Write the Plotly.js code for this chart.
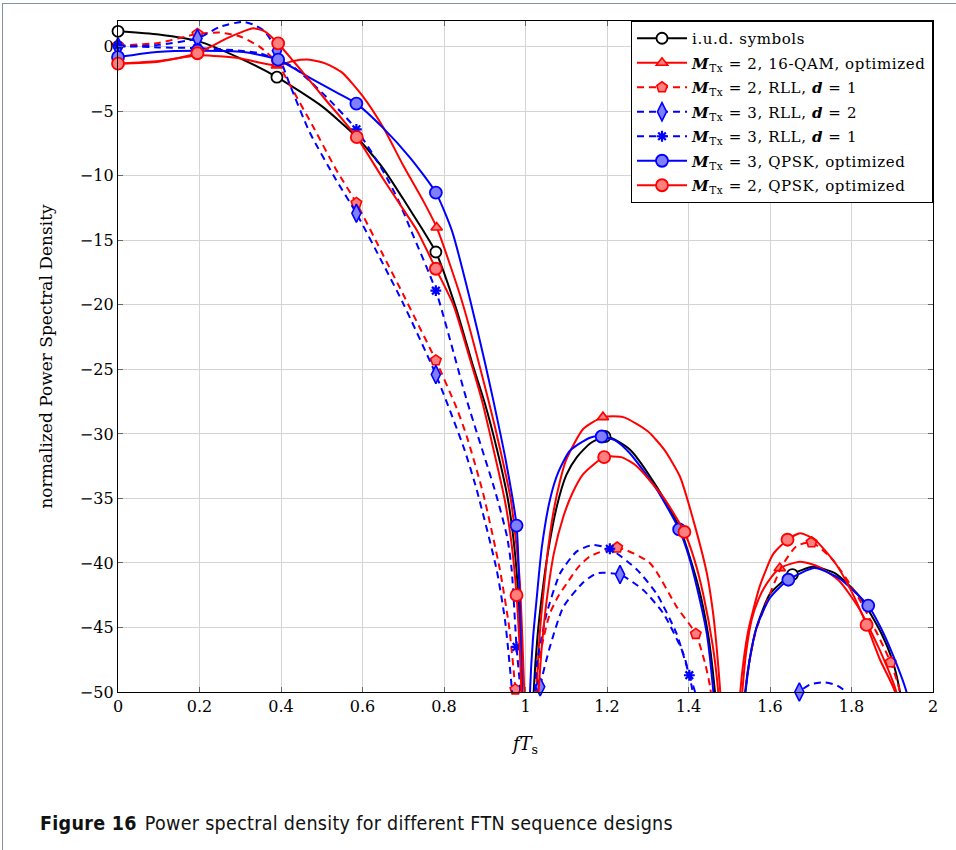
<!DOCTYPE html>
<html>
<head>
<meta charset="utf-8">
<script src="https://cdn.plot.ly/plotly-3.0.1.min.js"></script>
<style>
  html, body { margin: 0; padding: 0; background: #ffffff; }
  #wrap { position: relative; width: 956px; height: 850px; overflow: hidden; }
  #chart { position: absolute; left: 0; top: 0; width: 956px; height: 850px; }
  #frame { position: absolute; left: 2px; top: 3px; width: 980px; height: 900px;
           border-top: 1.5px solid #7e93ad; border-left: 1.5px solid #7e93ad; pointer-events: none; }
  #caption { position: absolute; left: 40px; top: 812px; font-family: "Liberation Sans Narrow", "DejaVu Sans Condensed", "Arial Narrow", sans-serif;
             font-size: 19.5px; letter-spacing: 0.3px; color: #111; white-space: nowrap; }
  #caption b { font-weight: bold; margin-right: 8px; }
  .legendtext { letter-spacing: 0.6px; }
</style>
</head>
<body>
<div id="wrap">
  <div id="chart"></div>
  <div id="frame"></div>
  <div id="caption"><b>Figure 16</b>Power spectral density for different FTN sequence designs</div>
</div>
<script>
// ---------- tick labels ----------
const xTickVals = [0, 0.2, 0.4, 0.6, 0.8, 1, 1.2, 1.4, 1.6, 1.8, 2];
const xTickText = ['0', '0.2', '0.4', '0.6', '0.8', '1', '1.2', '1.4', '1.6', '1.8', '2'];
const yTickVals = [0, -5, -10, -15, -20, -25, -30, -35, -40, -45, -50];
const yTickText = ['0', '\u22125', '\u221210', '\u221215', '\u221220', '\u221225', '\u221230', '\u221235', '\u221240', '\u221245', '\u221250'];

// ---------- series names ----------
const seriesNames = [
  'i.u.d. symbols',
  '<b><i>M</i></b><sub>Tx</sub> = 2, 16-QAM, optimized',
  '<b><i>M</i></b><sub>Tx</sub> = 2, RLL, <b><i>d</i></b> = 1',
  '<b><i>M</i></b><sub>Tx</sub> = 3, RLL, <b><i>d</i></b> = 2',
  '<b><i>M</i></b><sub>Tx</sub> = 3, RLL, <b><i>d</i></b> = 1',
  '<b><i>M</i></b><sub>Tx</sub> = 3, QPSK, optimized',
  '<b><i>M</i></b><sub>Tx</sub> = 2, QPSK, optimized'
];

// ---------- i.u.d. symbols ----------
const iudX = [0,0.1,0.2,0.3,0.39,0.5,0.586,0.65,0.7,0.75,0.78,0.83,0.87,0.9,0.93,0.957,0.975,0.988,1.005,1.02,1.03,1.04,1.055,1.077,1.1,1.126,1.16,1.2,1.256,1.322,1.38,1.424,1.448,1.465,1.478,1.5,1.525,1.539,1.55,1.567,1.6,1.653,1.706,1.76,1.82,1.874,1.9,1.919,1.94];
const iudY = [1.2,0.95,0.4,-0.9,-2.35,-4.6,-7.0,-9.4,-11.8,-14.3,-15.9,-20.3,-24.6,-27.6,-31.2,-35.1,-39.5,-46,-65,-50,-45.5,-42.6,-39.2,-35.6,-33.2,-31.8,-30.7,-30.2,-31.2,-34.1,-37.4,-41.8,-45.5,-50,-55,-65,-56,-50,-47.5,-45.0,-42.4,-40.9,-40.3,-40.8,-42.6,-45.5,-47.5,-50,-55];
const iudMarkX = [0,0.39,0.78,1.195,1.655];
const iudMarkY = [1.2,-2.35,-15.9,-30.2,-40.9];

// ---------- M=2, 16-QAM, optimized ----------
const qamX = [0,0.1,0.2,0.3,0.39,0.43,0.47,0.51,0.55,0.6,0.65,0.7,0.75,0.782,0.843,0.909,0.94,0.964,0.985,0.997,1.01,1.022,1.027,1.035,1.045,1.057,1.07,1.085,1.1,1.142,1.19,1.24,1.3,1.34,1.379,1.412,1.445,1.46,1.469,1.478,1.49,1.505,1.52,1.532,1.542,1.555,1.572,1.592,1.624,1.674,1.72,1.77,1.82,1.87,1.91,1.93];
const qamY = [-1.3,-1.1,-0.65,-0.9,-1.45,-1.1,-1.0,-1.3,-2.0,-3.8,-6.2,-9.2,-12.0,-14.0,-19.6,-27.4,-31.5,-35.1,-41,-50,-65,-55,-50,-45.5,-42,-38.5,-35.8,-33.6,-32,-29.6,-28.7,-28.7,-29.8,-31.2,-33.3,-36.7,-40.8,-43.8,-46.5,-50,-56,-65,-56,-50,-46.8,-44.4,-42.8,-41.6,-40.4,-39.9,-40.3,-41.4,-43.6,-46.8,-50,-54];
const qamMarkX = [0,0.39,0.782,1.19,1.624];
const qamMarkY = [-1.3,-1.45,-14.0,-28.7,-40.4];

// ---------- M=2, RLL, d=1 ----------
const rllAX = [0,0.1,0.195,0.25,0.3,0.348,0.39,0.414,0.479,0.535,0.585,0.65,0.7,0.741,0.78,0.831,0.856,0.896,0.937,0.96,0.975,0.985,1.0,1.02,1.031,1.045,1.06,1.08,1.101,1.13,1.158,1.225,1.305,1.371,1.418,1.44,1.453,1.47,1.5,1.525,1.539,1.55,1.565,1.592,1.63,1.665,1.702,1.755,1.821,1.896,1.919,1.935];
const rllAY = [0.1,0.3,1.0,1.1,0.8,0.0,-1.2,-2.5,-6.2,-9.5,-12.1,-16.1,-19.2,-21.8,-24.3,-28.0,-30.2,-34.6,-40.5,-45,-49.8,-55,-65,-53,-48,-45.7,-43.9,-42.6,-41.6,-40.3,-39.5,-38.8,-40.0,-43.4,-45.5,-47.7,-49.6,-55,-65,-55,-50,-47.5,-45.3,-43.0,-40.2,-38.7,-38.4,-39.8,-42.9,-47.7,-50,-54];
const rllAMarkX = [0,0.195,0.39,0.585,0.78,0.975,1.225,1.418,1.702,1.896];
const rllAMarkY = [0.1,1.0,-1.2,-12.1,-24.3,-49.8,-38.8,-45.5,-38.4,-47.7];

// ---------- M=3, RLL, d=2 ----------
const rllBX = [0,0.1,0.195,0.25,0.307,0.33,0.36,0.39,0.42,0.47,0.535,0.585,0.65,0.7,0.78,0.85,0.88,0.929,0.95,0.966,0.98,1.0,1.02,1.036,1.06,1.093,1.142,1.175,1.232,1.289,1.338,1.387,1.408,1.43,1.47,1.55,1.62,1.65,1.672,1.70,1.735,1.765,1.79,1.82,1.86];
const rllBY = [0.0,0.15,0.65,1.55,1.94,1.75,1.2,-0.3,-2.8,-6.6,-10.3,-12.9,-16.8,-19.9,-25.4,-31.2,-34.3,-40.5,-44.5,-49.6,-56,-65,-56,-49.6,-46.5,-43.4,-41.5,-40.8,-40.9,-42.1,-43.9,-47,-49.6,-55,-65,-65,-56,-51.5,-50,-49.4,-49.25,-49.5,-50.1,-52,-58];
const rllBMarkX = [0,0.195,0.39,0.585,0.78,1.036,1.232,1.672];
const rllBMarkY = [0.0,0.65,-0.3,-12.9,-25.4,-49.6,-40.9,-50];

// ---------- M=3, RLL, d=1 ----------
const rllCX = [0,0.1,0.195,0.3,0.348,0.39,0.43,0.512,0.585,0.65,0.688,0.72,0.78,0.856,0.927,0.955,0.966,0.978,0.987,1.0,1.015,1.027,1.04,1.052,1.085,1.126,1.166,1.207,1.273,1.322,1.371,1.402,1.416,1.44,1.5,1.6,1.7,1.8];
const rllCY = [0.1,-0.05,-0.1,-0.3,-0.5,-1.0,-1.55,-3.9,-6.4,-9.6,-11.9,-14.3,-18.9,-27.4,-34.6,-38.0,-40.5,-46.5,-49.8,-65,-55,-48,-45.7,-43.9,-40.8,-39.1,-38.6,-38.9,-40.5,-42.4,-45.5,-48.7,-50,-58,-70,-65,-60,-65];
const rllCMarkX = [0,0.195,0.39,0.585,0.78,0.978,1.207,1.402];
const rllCMarkY = [0.1,-0.1,-1.0,-6.4,-18.9,-46.5,-38.9,-48.7];

// ---------- M=3, QPSK, optimized ----------
const q3X = [0,0.095,0.195,0.308,0.393,0.471,0.537,0.585,0.651,0.717,0.78,0.82,0.864,0.9,0.921,0.95,0.978,0.99,1.0,1.011,1.018,1.027,1.04,1.06,1.08,1.109,1.158,1.187,1.22,1.256,1.322,1.377,1.4,1.42,1.445,1.461,1.475,1.5,1.525,1.54,1.55,1.567,1.6,1.645,1.71,1.77,1.841,1.87,1.9,1.935,1.95];
const q3Y = [-0.8,-0.4,-0.3,-0.4,-1.0,-2.4,-3.55,-4.4,-6.3,-8.6,-11.3,-14.3,-19.6,-24.4,-27.4,-31.8,-37.1,-48,-65,-50,-46,-42.9,-38.8,-35.1,-33.0,-31.3,-30.3,-30.2,-30.5,-31.5,-34.3,-37.4,-39.4,-41.8,-45.5,-50,-56,-65,-55,-50,-47.5,-45.0,-42.7,-41.3,-40.4,-41.2,-43.3,-44.9,-47.0,-50,-53];
const q3MarkX = [0,0.195,0.393,0.585,0.78,0.978,1.187,1.377,1.645,1.841];
const q3MarkY = [-0.8,-0.3,-1.0,-4.4,-11.3,-37.1,-30.2,-37.4,-41.3,-43.3];

// ---------- M=2, QPSK, optimized ----------
const q2X = [0,0.1,0.195,0.267,0.3,0.332,0.36,0.393,0.43,0.47,0.512,0.55,0.586,0.65,0.7,0.733,0.78,0.823,0.86,0.893,0.92,0.949,0.965,0.978,0.99,1.0,1.02,1.032,1.04,1.052,1.07,1.093,1.115,1.142,1.193,1.235,1.273,1.338,1.39,1.415,1.436,1.46,1.473,1.485,1.5,1.515,1.527,1.535,1.547,1.575,1.608,1.643,1.674,1.71,1.76,1.8,1.837,1.87,1.907,1.93];
const q2Y = [-1.3,-1.15,-0.5,0.65,1.1,1.43,1.2,0.26,-1.1,-2.6,-4.2,-5.6,-7.0,-10.2,-12.6,-14.2,-17.2,-20.0,-23.8,-27.4,-31.0,-35.1,-38.3,-42.5,-50,-65,-56,-50,-46.5,-42.9,-39.2,-36.4,-34.6,-33.1,-31.8,-31.8,-32.5,-34.9,-37.6,-39.8,-42.4,-46.5,-50,-56,-65,-56,-50,-47.6,-45.2,-41.8,-39.3,-38.2,-37.7,-38.2,-40,-42.2,-44.8,-47.5,-50,-55];
const q2MarkX = [0,0.195,0.393,0.586,0.78,0.978,1.193,1.39,1.643,1.837];
const q2MarkY = [-1.3,-0.5,0.26,-7.0,-17.2,-42.5,-31.8,-37.6,-38.2,-44.8];

// ---------- styles ----------
const RED = '#ff0000', BLUE = '#0000ff', BLACK = '#000000';
const LRED = '#ff7f7f', LBLUE = '#7f7fff';
const DASH = '7px,5px';

const series = [
  {x: iudX, y: iudY, mx: iudMarkX, my: iudMarkY, color: BLACK, dash: 'solid',
   marker: {symbol: 'circle', size: 11, color: '#ffffff', line: {color: BLACK, width: 1.8}}},
  {x: qamX, y: qamY, mx: qamMarkX, my: qamMarkY, color: RED, dash: 'solid',
   marker: {symbol: 'triangle-up', size: 10, color: LRED, line: {color: RED, width: 1.6}}},
  {x: rllAX, y: rllAY, mx: rllAMarkX, my: rllAMarkY, color: RED, dash: DASH,
   marker: {symbol: 'pentagon', size: 11, color: LRED, line: {color: RED, width: 1.6}}},
  {x: rllBX, y: rllBY, mx: rllBMarkX, my: rllBMarkY, color: BLUE, dash: DASH,
   marker: {symbol: 'diamond-tall', size: 13, color: LBLUE, line: {color: BLUE, width: 1.6}}},
  {x: rllCX, y: rllCY, mx: rllCMarkX, my: rllCMarkY, color: BLUE, dash: DASH,
   marker: {symbol: 'asterisk-open', size: 9, color: BLUE, line: {color: BLUE, width: 2.2}}},
  {x: q3X, y: q3Y, mx: q3MarkX, my: q3MarkY, color: BLUE, dash: 'solid',
   marker: {symbol: 'circle', size: 12, color: LBLUE, line: {color: BLUE, width: 1.8}}},
  {x: q2X, y: q2Y, mx: q2MarkX, my: q2MarkY, color: RED, dash: 'solid',
   marker: {symbol: 'circle', size: 12, color: LRED, line: {color: RED, width: 1.8}}}
];

const traces = [];
series.forEach(function (s) {
  traces.push({x: s.x, y: s.y, type: 'scatter', mode: 'lines', showlegend: false, hoverinfo: 'skip',
               line: {color: s.color, width: 2, dash: s.dash, shape: 'spline', smoothing: 0.6}});
  traces.push({x: s.mx, y: s.my, type: 'scatter', mode: 'markers', showlegend: false, cliponaxis: false,
               marker: s.marker});
});
// legend entries (line + marker symbol), no visible points
series.forEach(function (s, i) {
  traces.push({x: [null], y: [null], type: 'scatter', mode: 'lines+markers', name: seriesNames[i],
               legendgroup: 'g' + i, showlegend: true,
               line: {color: s.color, width: 2, dash: s.dash}, marker: s.marker});
});

const axisCommon = {
  showline: true, linecolor: '#000', linewidth: 1.2, mirror: 'allticks',
  ticks: 'inside', ticklen: 5, tickcolor: '#666', tickwidth: 1,
  showgrid: true, gridcolor: '#d4d4d4', gridwidth: 1, zeroline: false,
  tickfont: {family: 'DejaVu Serif, serif', size: 16, color: '#000'}
};

const layout = {
  width: 956, height: 850,
  margin: {l: 118, r: 23, t: 21, b: 158},
  paper_bgcolor: '#ffffff', plot_bgcolor: '#ffffff',
  showlegend: true,
  xaxis: Object.assign({}, axisCommon, {
    range: [0, 2], tickmode: 'array', tickvals: xTickVals, ticktext: xTickText,
    title: {text: '<i>fT</i><sub>s</sub>', font: {family: 'DejaVu Serif, serif', size: 18, color: '#000'}, standoff: 22}
  }),
  yaxis: Object.assign({}, axisCommon, {
    range: [-50, 2], tickmode: 'array', tickvals: yTickVals, ticktext: yTickText,
    title: {text: 'normalized Power Spectral Density', font: {family: 'DejaVu Serif, serif', size: 17, color: '#000'}, standoff: 22}
  }),
  legend: {
    x: 1, xanchor: 'right', y: 1, yanchor: 'top',
    bgcolor: '#ffffff', bordercolor: '#000', borderwidth: 1,
    font: {family: 'DejaVu Serif, serif', size: 15, color: '#000'},
    itemwidth: 50, tracegroupgap: 2, traceorder: 'grouped'
  }
};

Plotly.newPlot('chart', traces, layout, {staticPlot: true, displayModeBar: false});
</script>
</body>
</html>
